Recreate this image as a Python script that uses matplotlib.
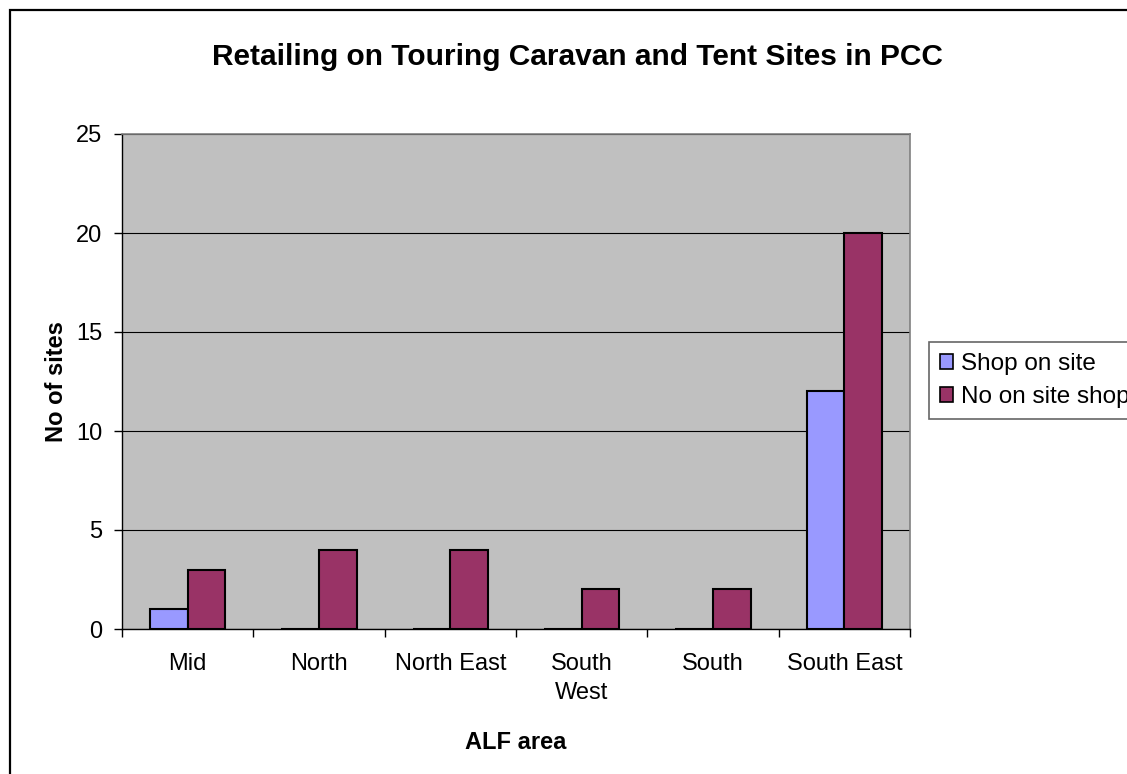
import matplotlib
matplotlib.use("Agg")
import matplotlib.pyplot as plt
import numpy as np
from matplotlib.patches import Rectangle

plt.rcParams['font.family'] = ['Liberation Sans', 'DejaVu Sans']

areas = ["Mid", "North", "North East", "South\nWest", "South", "South East"]
shop_on_site = [1, 0, 0, 0, 0, 12]
no_shop = [3, 4, 4, 2, 2, 20]
series_names = ["Shop on site", "No on site shop"]
y_ticks = [0, 5, 10, 15, 20, 25]

W, H = 1127, 774
fig = plt.figure(figsize=(W / 100, H / 100), dpi=100)
ax = fig.add_axes([122 / W, 1 - 629 / H, (910 - 122) / W, (629 - 134) / H])
ax.set_facecolor("#C0C0C0")

n = len(areas)
centers = np.arange(n) + 0.5
bw = 1 / 3.5
ax.bar(centers - bw / 2, shop_on_site, width=bw, color="#9999FF",
       edgecolor="black", linewidth=1.5, label=series_names[0], zorder=3)
ax.bar(centers + bw / 2, no_shop, width=bw, color="#993366",
       edgecolor="black", linewidth=1.5, label=series_names[1], zorder=3)

ax.set_xlim(0, n)
ax.set_ylim(0, 25)
ax.set_yticks(y_ticks)
ax.yaxis.grid(True, color="black", linewidth=0.8, zorder=1)
ax.set_axisbelow(True)

# category boundaries carry the tick marks; labels sit at the centres
ax.set_xticks(np.arange(n + 1))
ax.set_xticklabels([])
ax.set_xticks(centers, minor=True)
ax.set_xticklabels(areas, minor=True, fontsize=17, linespacing=1.45)
ax.tick_params(axis="x", which="minor", length=0, pad=17)
ax.tick_params(axis="x", which="major", length=6, width=1, direction="out")
ax.tick_params(axis="y", length=6, width=1, direction="out", labelsize=17, pad=8)

for side in ("top", "right"):
    ax.spines[side].set_color("#808080")
    ax.spines[side].set_linewidth(1.2)
for side in ("left", "bottom"):
    ax.spines[side].set_color("black")
    ax.spines[side].set_linewidth(1)

ax.set_xlabel("ALF area", fontsize=17, fontweight="bold", labelpad=19)
ax.set_ylabel("No of sites", fontsize=17, fontweight="bold", labelpad=6)

fig.text(577 / W, 1 - 57 / H, "Retailing on Touring Caravan and Tent Sites in PCC",
         ha="center", va="center", fontsize=21.5, fontweight="bold")

leg = fig.legend(loc="upper left", bbox_to_anchor=(929 / W, 1 - 342 / H),
                 fontsize=17.5, frameon=True, fancybox=False, shadow=False,
                 handlelength=0.55, handleheight=0.55, handletextpad=0.33,
                 labelspacing=0.45, borderpad=0.45, borderaxespad=0)
leg.get_frame().set_edgecolor("#404040")
leg.get_frame().set_linewidth(1.2)
for h in leg.legend_handles:
    h.set_linewidth(1.2)

# chart-area border
fig.patches.append(Rectangle((10 / W, -0.2), 1.5, 1.2 - 10 / H,
                             transform=fig.transFigure, fill=False,
                             edgecolor="black", linewidth=1.6))

fig.savefig("out.png", dpi=100)
